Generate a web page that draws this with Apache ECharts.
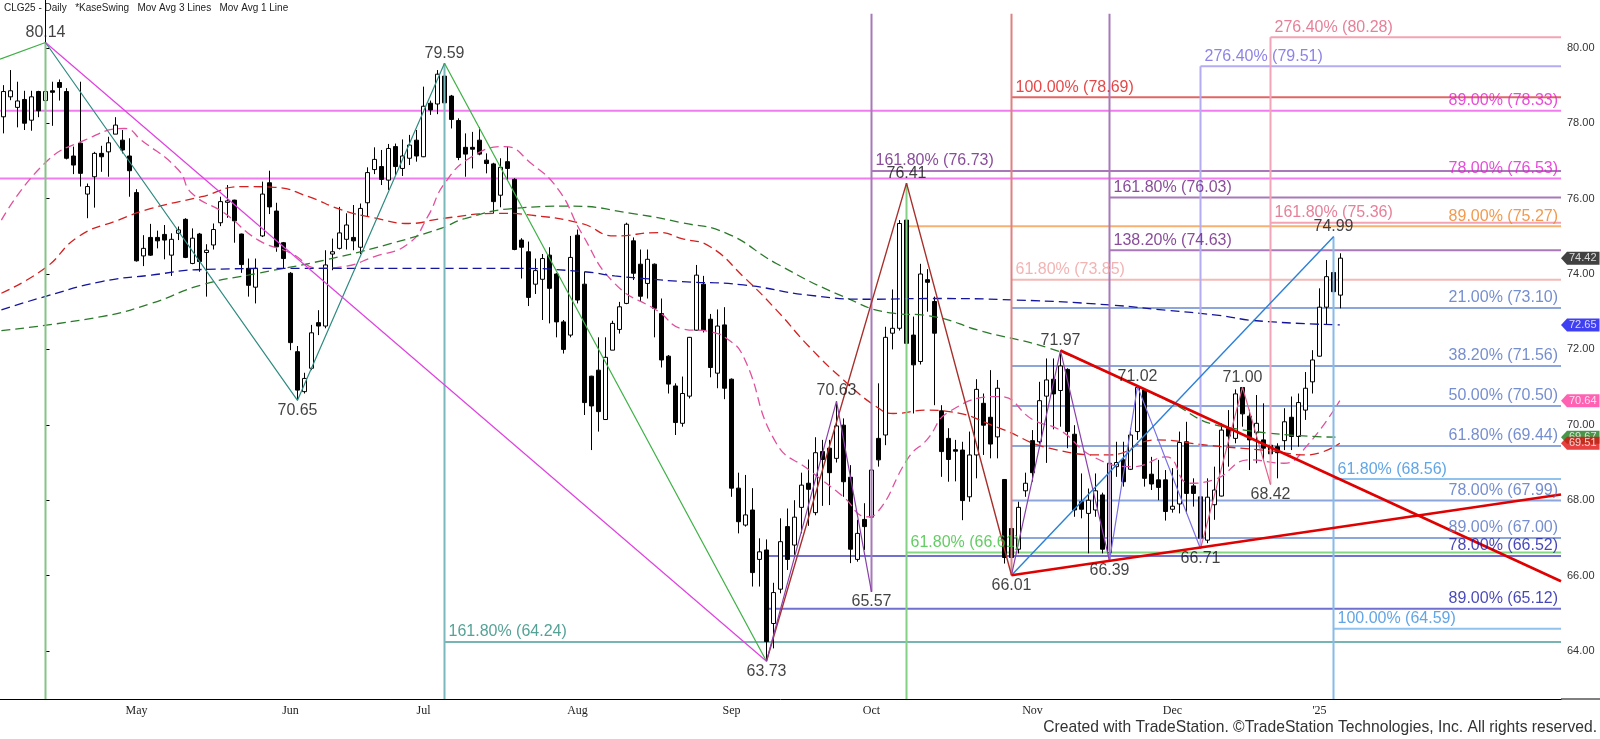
<!DOCTYPE html>
<html><head><meta charset="utf-8">
<script src="https://cdn.jsdelivr.net/npm/echarts/dist/echarts.min.js"></script>
<style>html,body{margin:0;padding:0;background:#fff}#c{width:1600px;height:739px}</style>
</head><body><div id="c"></div>
<script>
// ---------- DATA ----------
const firstDate = '2024-04-04';
const holidays = ['2024-05-27','2024-06-19','2024-07-04','2024-09-02','2024-11-28','2024-12-25','2025-01-01','2025-01-20'];
const opens = [78.17,78.70,78.42,78.63,78.08,78.84,78.60,78.86,79.08,78.84,77.13,77.47,76.12,76.58,77.20,77.24,77.71,77.55,77.13,76.16,74.48,74.97,74.97,75.05,74.50,75.08,75.45,74.28,75.06,74.57,74.77,75.36,75.90,75.96,75.06,74.15,73.65,75.01,76.42,75.67,74.83,74.02,71.94,70.88,71.50,72.71,72.62,74.53,74.68,74.92,74.97,74.71,75.89,76.77,76.85,76.49,77.38,76.80,77.07,77.55,77.11,78.53,78.51,79.25,78.72,78.07,77.36,77.36,77.55,77.02,76.92,76.09,76.98,76.51,74.90,74.59,73.73,73.86,74.50,74.00,72.73,72.38,75.03,73.73,71.29,71.45,70.14,71.98,72.53,73.22,74.88,74.26,73.75,74.26,72.95,71.82,71.03,70.04,70.76,72.51,73.73,72.80,71.37,72.65,71.21,68.32,67.34,67.74,66.43,66.68,64.73,65.64,67.30,66.81,67.81,68.45,67.67,69.29,69.38,69.11,69.99,68.61,66.43,67.49,67.55,69.64,69.73,72.43,72.56,75.43,72.38,71.68,73.85,73.27,70.37,69.64,69.34,69.33,68.09,69.20,70.57,70.20,69.68,68.55,67.25,66.70,68.25,69.58,69.55,70.76,71.21,70.91,71.47,69.75,67.96,67.65,67.74,68.14,66.61,68.89,69.07,68.82,69.82,70.92,68.69,68.54,68.54,67.76,67.90,69.55,68.38,68.09,66.94,67.88,68.11,69.90,69.64,70.99,70.23,69.79,69.60,69.46,69.42,69.58,70.20,69.69,70.39,71.14,71.82,73.12,74.04,73.44];
const highs = [79.01,79.41,79.10,78.86,78.86,78.86,80.14,79.10,79.16,78.93,77.38,79.10,76.40,77.24,77.40,77.64,78.16,77.82,77.60,76.25,75.03,75.33,75.15,75.30,75.08,75.26,75.48,75.21,75.09,74.79,75.34,76.05,76.36,75.97,75.07,74.41,74.41,76.45,76.74,75.89,74.85,74.05,72.09,71.38,72.65,73.04,74.63,74.94,75.78,75.61,75.83,75.87,76.83,77.36,77.29,77.45,77.46,77.57,77.69,77.82,78.97,78.60,79.41,79.59,78.75,78.13,77.73,77.77,77.89,77.20,76.95,77.07,77.38,76.54,74.95,74.86,74.41,74.53,74.71,74.02,72.78,75.01,75.18,74.06,71.30,72.32,72.32,72.76,73.26,75.36,74.97,74.65,74.65,74.28,73.35,71.85,71.10,71.28,72.33,74.24,73.95,72.94,73.06,73.12,71.23,68.73,68.67,68.32,66.99,66.96,65.81,67.52,67.78,68.00,68.73,69.08,69.67,69.60,69.60,70.63,70.17,68.93,67.48,67.92,69.30,71.10,72.60,73.59,75.43,76.41,72.87,74.27,74.13,73.40,70.52,69.91,69.60,69.55,69.82,71.21,70.83,71.45,71.19,68.55,67.50,67.96,68.73,69.86,71.14,71.76,71.76,71.97,71.50,69.99,68.71,68.31,68.71,68.20,69.17,69.55,69.55,69.91,71.02,70.97,69.15,69.07,68.80,68.85,69.82,70.08,68.58,68.10,68.58,68.89,70.04,70.39,70.94,71.00,70.40,70.79,70.57,69.68,69.51,70.44,70.75,70.83,71.40,71.98,73.62,74.37,74.99,74.55];
const lows = [77.73,78.61,77.89,77.82,77.80,78.16,78.40,77.93,78.60,77.04,76.65,76.32,75.48,75.76,76.71,76.58,77.71,77.20,76.05,74.33,74.21,74.48,74.68,74.39,73.95,74.90,74.42,74.26,74.06,73.40,74.65,75.27,75.49,74.83,74.03,73.40,73.22,74.98,75.59,74.59,74.15,71.98,70.65,70.83,71.45,72.38,72.56,74.10,74.65,74.65,74.63,74.53,75.52,76.65,76.36,76.23,76.62,76.60,76.89,76.98,77.10,78.22,78.24,78.45,77.86,77.02,76.58,76.80,77.15,76.67,75.61,75.77,76.49,74.63,73.88,73.15,73.47,72.78,72.69,72.32,71.89,72.32,73.22,70.26,69.33,69.82,70.13,71.98,72.42,73.20,73.84,73.26,73.35,72.32,71.52,70.83,69.73,69.95,70.70,72.50,72.45,71.26,70.97,70.68,68.09,67.12,67.30,65.71,65.71,63.73,64.07,65.53,66.15,66.55,67.12,67.32,67.60,67.85,67.87,69.00,68.09,66.33,66.37,66.68,65.57,68.89,69.46,72.00,72.50,71.37,70.30,71.60,73.00,70.52,68.62,68.49,68.50,67.47,67.96,68.58,69.20,69.11,69.11,66.32,66.01,66.59,68.09,68.49,69.50,68.99,69.88,69.95,69.38,67.56,67.52,66.59,67.56,66.59,66.39,68.62,68.36,68.80,69.60,68.36,68.27,68.00,67.46,67.67,67.65,67.65,67.83,66.71,66.86,67.48,68.10,68.89,69.51,69.95,68.80,68.98,69.07,68.42,68.58,69.33,69.33,69.42,70.13,70.83,71.81,72.67,73.22,73.09];
const closes = [78.84,78.86,78.59,78.00,78.70,78.33,78.84,78.82,78.95,77.07,76.89,76.67,76.32,77.20,77.11,77.48,77.95,77.29,76.74,74.35,74.68,74.50,74.88,74.90,74.92,75.17,74.44,74.95,74.33,74.63,75.18,75.92,75.94,75.41,74.25,73.70,74.15,76.12,75.78,74.72,74.41,72.18,70.92,71.23,72.44,72.62,74.24,74.59,75.09,75.30,74.88,75.74,76.69,77.04,76.51,77.33,76.85,77.13,77.42,77.13,78.45,78.35,79.30,78.54,78.10,77.09,77.18,77.31,77.18,76.93,75.92,76.83,76.80,74.65,74.71,73.38,74.09,74.41,73.62,72.73,72.00,74.44,73.31,70.59,70.50,70.35,71.79,72.69,73.13,75.32,74.02,73.41,74.39,73.09,71.72,71.08,70.06,70.83,72.32,73.97,72.51,71.52,72.62,70.97,68.32,67.43,67.61,66.08,66.63,64.25,65.55,66.90,66.43,67.55,68.40,68.29,69.26,69.08,68.73,69.97,68.49,66.70,67.12,67.30,68.80,69.07,72.32,72.56,75.34,72.16,71.59,74.00,73.78,72.43,69.29,69.08,69.30,67.99,69.20,70.94,69.99,69.49,70.97,66.48,66.48,67.81,68.45,68.73,70.64,71.19,70.82,71.56,69.82,67.74,67.76,68.00,68.25,66.70,68.98,69.00,68.49,69.73,70.99,68.58,68.43,68.34,67.70,67.84,69.53,68.18,68.18,66.99,68.08,68.27,69.86,69.70,70.82,70.29,69.60,70.04,69.38,69.23,69.26,70.08,69.69,70.59,70.97,71.72,73.12,73.93,73.53,74.42];

// moving averages as [barIndex, price] (bar 0 = Apr 12)
const maPink = [[-6.3,75.43],[-0.1,76.94],[5.6,77.55],[11.3,77.86],[13.7,77.55],[19,76.76],[20.9,76.14],[25.6,75.61],[30.4,74.90],[35.1,74.55],[39,74.15],[42.3,74.19],[47,74.46],[51.9,74.81],[54.6,75.52],[57,76.4],[60.9,77.11],[65.6,77.38],[69.4,76.93],[73.3,76.23],[76.6,75.08],[81.3,73.75],[87.6,73.0],[90.9,72.55],[94.9,72.47],[97.3,72.29],[99.7,71.81],[104.4,69.51],[109.1,68.80],[114,68.09],[117.3,67.56],[118.7,67.65],[123.4,69.16],[125.9,69.6],[129.1,70.35],[136.3,70.75],[141.1,70.13],[144.9,69.86],[149.7,69.15],[155.4,68.89],[160.1,69.15],[163.4,68.45],[166.9,68.54],[172,69.07],[176.9,68.98],[180.1,69.42],[184.9,70.64]];
const maRed = [[-6.3,73.49],[-0.1,74.15],[4.7,74.99],[10.4,75.43],[15.1,75.74],[22.3,76.05],[28,76.32],[32.7,76.30],[37.6,76.05],[42.3,75.70],[47,75.49],[51.9,75.34],[56.6,75.47],[64.7,75.61],[69.4,75.56],[76.6,75.34],[81.3,75.01],[87.6,75.10],[90.9,74.94],[94.9,74.73],[99.7,73.93],[104.4,73.05],[109.1,72.07],[114,71.19],[118.7,70.48],[121.1,70.30],[125.9,70.39],[129.1,70.35],[136.3,69.91],[143.4,69.38],[152,69.2],[158.7,69.6],[165.9,69.46],[175.4,69.3],[180.1,69.2],[184.9,69.51]];
const maGreen = [[-6.3,72.5],[8,72.87],[15.1,73.22],[22.3,73.71],[30.4,74.02],[39.9,74.37],[49.4,74.81],[56.6,75.22],[59.9,75.47],[67,75.74],[75.1,75.80],[83.7,75.61],[90.9,75.36],[97.3,75.08],[104.4,74.28],[114,73.4],[121.1,72.96],[125.9,72.90],[134,72.47],[143.4,72.03],[151,71.45],[160,70.67],[168.3,69.95],[184.9,69.67]];
const maBlue = [[-6.3,73.05],[-0.1,73.4],[8,73.80],[15.1,73.97],[22.3,74.12],[36.6,74.15],[56.6,74.15],[67,74.15],[77,74.06],[81.3,73.95],[85.6,73.88],[90.9,73.80],[99.7,73.71],[109,73.44],[117.7,73.33],[125.9,73.35],[138.7,73.31],[152,73.18],[160,73.04],[167.3,72.91],[173,72.76],[184.9,72.65]];

// swing pivots
const pivotIdx = [0,57,36,103,113,118,123,138,145,152,156,165,171,175,184];
const pivotVal = [80.14,79.59,70.65,63.73,70.63,65.57,76.41,66.01,71.97,66.39,71.02,66.71,71.00,68.42,74.99];
const pivotIsHigh = [1,1,0,0,1,0,1,0,1,0,1,0,1,0,1];

// Fibonacci / projection levels
const levelValues = [80.28,79.51,78.69,78.33,76.73,76.53,76.03,75.36,75.27,74.63,73.85,73.10,71.56,70.50,69.44,68.56,67.99,67.00,66.61,66.52,65.12,64.59,64.24];
const levelPcts = ['276.40%','276.40%','100.00%','89.00%','161.80%','78.00%','161.80%','161.80%','89.00%','138.20%','61.80%','21.00%','38.20%','50.00%','61.80%','61.80%','78.00%','89.00%','61.80%','78.00%','89.00%','100.00%','161.80%'];
const levelFrom = [175,165,138,-6.5,118,-6.5,152,175,123,152,138,138,138,138,138,184,138,138,123,103,103,184,57];

// zigzag swings [index, price]
const swingGreenA = [[-6.5,79.70],[0,80.14]];
const swingTeal = [[0,80.14],[36,70.65],[57,79.59]];
const swingGreenB = [[57,79.59],[103,63.73]];
const swingMagenta = [[0,80.14],[103,63.73]];
const swingBrown = [[103,63.73],[123,76.41],[138,66.01]];
const swingPurpleA = [[103,63.73],[113,70.63],[118,65.57]];
const swingPurpleB = [[138,66.01],[145,71.97],[152,66.39]];
const swingLavender = [[152,66.39],[156,71.02],[165,66.71]];
const swingPink = [[165,66.71],[171,71.00],[175,68.42]];
const swingBlue = [[138,66.01],[184,74.99]];
const trendDown = [[145,71.97],[216.5,65.85]];
const trendUp = [[138,66.01],[216.5,68.15]];

// vertical markers
const vIdx = [0,57,123,184,118,138,152,165,175];
const vTop = [80.14,79.59,76.41,74.99,80.90,80.90,80.90,79.51,80.28];
const vBottom = [62.73,62.73,62.73,62.73,65.57,66.01,66.39,66.71,68.42];

// last-value tags
const tagVals = [74.42,72.65,70.64,69.67,69.51];

// y axis tick labels
const yTicks = [64,66,68,70,72,74,76,78,80];

// ---------- STYLES ----------
const levelLineColors = ['#f2a4b4','#b4acf2','#e06666','#f07cf0','#a878b8','#f07cf0','#a878b8','#f2a4b4','#f8b070','#a878b8','#f4b8b8','#8ca6dc','#8ca6dc','#8ca6dc','#8ca6dc','#90c2ee','#8ca6dc','#8ca6dc','#84d884','#7070d0','#7070d0','#90c2ee','#78b4b4'];
const levelTextColors = ['#e0607e','#7064e0','#e01818','#e020d0','#6a1f80','#e020d0','#6a1f80','#e0607e','#f08020','#6a1f80','#f0a0a0','#5272c4','#5272c4','#5272c4','#5272c4','#3a8ee0','#5272c4','#5272c4','#3cbf3c','#1818a8','#1818a8','#3a8ee0','#2a8a7a'];
const levelAlignRight = [0,0,0,1,0,1,0,0,1,0,0,1,1,1,1,0,1,1,0,1,1,0,0];
const vColors = ['#86c486','#7ab8bc','#84d084','#86bce8','#a878b8','#e08080','#a878b8','#b4acf2','#f2a4b8'];
const tagColors = ['#111111','#1010f0','#ff3aa0','#1b7a1b','#e01010'];

// ---------- BUILD ----------
function pad(n){return n<10?'0'+n:''+n;}
function fmt(d){return d.getFullYear()+'-'+pad(d.getMonth()+1)+'-'+pad(d.getDate());}
const NCAT = 223;
const dates = [];
(function(){
  const p = firstDate.split('-').map(Number);
  let d = new Date(p[0], p[1]-1, p[2]);
  while (dates.length < 196) {
    const wd = d.getDay();
    const s = fmt(d);
    if (wd !== 0 && wd !== 6 && holidays.indexOf(s) < 0) dates.push(s);
    d.setDate(d.getDate()+1);
  }
  while (dates.length < NCAT) dates.push('');
})();
function toDate(s){const p=s.split('-').map(Number);return new Date(p[0],p[1]-1,p[2]);}
function isMonthStart(i){
  if (i===0 || !dates[i]) return false;
  return dates[i].slice(0,7) !== dates[i-1].slice(0,7);
}
function isWeekStart(i){
  if (i===0 || !dates[i]) return false;
  return toDate(dates[i]).getDay() < toDate(dates[i-1]).getDay() || isMonthStart(i);
}
const monthNames = ['Jan','Feb','Mar','Apr','May','Jun','Jul','Aug','Sep','Oct','Nov','Dec'];

const candleData = opens.map((o,k)=>[o, closes[k], lows[k], highs[k]]);

const series = [];
const LABEL_FONT = "'Liberation Sans', Arial, sans-serif";

// horizontal levels
levelValues.forEach((v,k)=>{
  series.push({type:'line', xAxisIndex:1, yAxisIndex:0, z:1, silent:true, symbol:'none', animation:false,
    data:[[levelFrom[k], v],[216.5, v]],
    lineStyle:{color:levelLineColors[k], width:2}});
});
// candles
series.push({type:'candlestick', xAxisIndex:0, yAxisIndex:0, z:2, data:candleData, barWidth:5,
  itemStyle:{color:'#ffffff', color0:'#000000', borderColor:'#000000', borderColor0:'#000000', borderWidth:1}});
// moving averages
[[maPink,'#e2509c'],[maRed,'#d42020'],[maGreen,'#2b7a2b'],[maBlue,'#14149c']].forEach(([d,c])=>{
  series.push({type:'line', xAxisIndex:1, z:3, silent:true, symbol:'none', smooth:0.5, data:d,
    lineStyle:{color:c, width:1.3, type:[9,5]}});
});
// vertical markers
vIdx.forEach((x,k)=>{
  series.push({type:'line', xAxisIndex:1, z:4, silent:true, symbol:'none', data:[[x,vTop[k]],[x,vBottom[k]]],
    lineStyle:{color:vColors[k], width:2}});
});
// swings
[[swingGreenA,'#3cb043',1.2],[swingTeal,'#2e8b80',1.2],[swingGreenB,'#3cb043',1.2],[swingMagenta,'#e040e0',1.2],
 [swingBrown,'#a8302c',1.4],[swingPurpleA,'#8a40a8',1.2],[swingPurpleB,'#8a40a8',1.2],[swingLavender,'#7a70e8',1.2],
 [swingPink,'#e0608a',1.2],[swingBlue,'#2a80d8',1.4],[trendDown,'#e00000',2.6],[trendUp,'#e00000',2.6]].forEach(([d,c,w])=>{
  series.push({type:'line', xAxisIndex:1, z:5, silent:true, symbol:'none', data:d, lineStyle:{color:c, width:w}});
});
// level labels
const levelLabelData = levelValues.map((v,k)=>{
  const right = levelAlignRight[k]===1;
  return {value:[right?216.5:levelFrom[k], v], label:{show:true,
    formatter: levelPcts[k]+' ('+v.toFixed(2)+')',
    position: right?'left':'right', distance: right?3:4, offset:[0,-10],
    color: levelTextColors[k], fontSize:16, fontFamily:LABEL_FONT}};
});
series.push({type:'scatter', xAxisIndex:1, z:6, silent:true, symbolSize:0, data:levelLabelData});
// pivot labels
const pivotData = pivotIdx.map((x,k)=>({value:[x,pivotVal[k]], label:{show:true, formatter: pivotVal[k].toFixed(2),
  position: pivotIsHigh[k]?'top':'bottom', distance:2, color:'#111', fontSize:16, fontFamily:LABEL_FONT}}));
series.push({type:'scatter', xAxisIndex:1, z:6, silent:true, symbolSize:0, data:pivotData});
// last value tags
tagVals.forEach((v,k)=>{
  series.push({type:'scatter', xAxisIndex:1, z:7, silent:true, clip:false,
    symbol:'path://M0,6L6,0L6,12Z', symbolSize:[6,13], symbolKeepAspect:false, symbolOffset:[3,0],
    itemStyle:{color:tagColors[k]},
    data:[{value:[216.5,v]}],
    label:{show:true, position:'right', distance:0, formatter:v.toFixed(2), color:'#fff', fontSize:11,
      fontFamily:LABEL_FONT, backgroundColor:tagColors[k], padding:[1,3,0,2], lineHeight:12}});
});

const chart = echarts.init(document.getElementById('c'), null, {renderer:'canvas'});
chart.setOption({
  animation:false,
  backgroundColor:'#ffffff',
  grid:{left:-1.5, top:0, width:1562.5, height:699, containLabel:false},
  xAxis:[{
    type:'category', data:dates, boundaryGap:true, position:'bottom',
    axisLine:{lineStyle:{color:'#000', width:1}},
    axisTick:{alignWithLabel:true, length:4, lineStyle:{color:'#000'}, interval:(i)=>isWeekStart(i)},
    axisLabel:{interval:(i)=>isMonthStart(i), margin:6, color:'#222', fontSize:12, fontFamily:"'Liberation Serif', 'Times New Roman', serif",
      formatter:(val)=>{ if(!val) return ''; const d=toDate(val); return d.getMonth()===0 ? "'"+String(d.getFullYear()).slice(2) : monthNames[d.getMonth()]; }},
    splitLine:{show:false}
  },{
    type:'value', min:-6.5, max:216.5, show:false, position:'top'
  }],
  yAxis:[{
    type:'value', position:'right', min:62.727, max:81.268,
    axisLine:{show:true, lineStyle:{color:'#000', width:1}},
    axisTick:{show:true, length:4, lineStyle:{color:'#000'}, customValues:yTicks},
    axisLabel:{show:true, margin:6, color:'#333', fontSize:11, fontFamily:LABEL_FONT, customValues:yTicks,
      formatter:(v)=>v.toFixed(2)},
    splitLine:{show:false}
  }],
  graphic:[
    {type:'text', left:4, top:3, style:{text:'CLG25 - Daily   *KaseSwing   Mov Avg 3 Lines   Mov Avg 1 Line', fill:'#222', font:"10px 'Liberation Sans', Arial, sans-serif"}},
    {type:'text', x:1597, y:719, scaleX:0.92, style:{text:'Created with TradeStation. ©TradeStation Technologies, Inc. All rights reserved.', fill:'#333', align:'right', verticalAlign:'top', font:"17px 'Liberation Sans', Arial, sans-serif"}},
    {type:'line', shape:{x1:1561, y1:699, x2:1600, y2:699}, style:{stroke:'#000', lineWidth:1}}
  ],
  series: series
});
</script>
</body></html>
